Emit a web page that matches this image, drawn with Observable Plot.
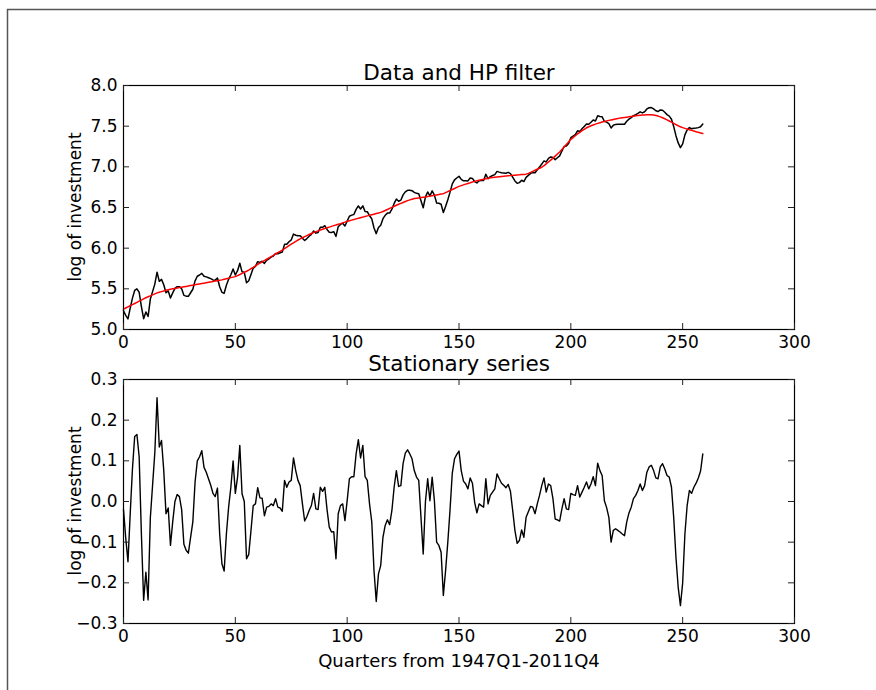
<!DOCTYPE html>
<html>
<head>
<meta charset="utf-8">
<script src="https://cdn.jsdelivr.net/npm/d3@7"></script>
<script src="https://cdn.jsdelivr.net/npm/@observablehq/plot@0.6"></script>
<style>
  html, body { margin: 0; padding: 0; background: #fff; }
  #fig { position: relative; width: 876px; height: 690px; overflow: hidden; background: #fff; }
  .ylab {
    position: absolute; white-space: nowrap;
    font-family: 'DejaVu Sans', sans-serif; font-size: 17px; line-height: 1; color: #000;
    transform: translate(-50%, -50%) rotate(-90deg);
  }
</style>
</head>
<body>
<div id="fig"></div>
<script>
// ---- Data (quarters 0..259, 1947Q1-2011Q4) ----
const topTitle = "Data and HP filter";
const bottomTitle = "Stationary series";
const yLabel = "log of investment";
const xLabel = "Quarters from 1947Q1-2011Q4";

const xTicks = [0, 50, 100, 150, 200, 250, 300];
const topYTicks = [5.0, 5.5, 6.0, 6.5, 7.0, 7.5, 8.0];
const bottomYTicks = [-0.3, -0.2, -0.1, 0.0, 0.1, 0.2, 0.3];

// log of investment (black line, top panel)
const logInvestment = [
  5.230, 5.174, 5.130, 5.262, 5.386, 5.480, 5.499, 5.458, 5.282, 5.133,
  5.216, 5.160, 5.374, 5.466, 5.558, 5.705, 5.592, 5.616, 5.550, 5.452,
  5.474, 5.387, 5.450, 5.505, 5.527, 5.527, 5.500, 5.420, 5.410, 5.408,
  5.452, 5.495, 5.598, 5.655, 5.670, 5.690, 5.654, 5.647, 5.636, 5.625,
  5.610, 5.607, 5.633, 5.525, 5.457, 5.446, 5.544, 5.617, 5.673, 5.744,
  5.670, 5.723, 5.814, 5.709, 5.703, 5.575, 5.600, 5.677, 5.755, 5.777,
  5.834, 5.825, 5.840, 5.813, 5.850, 5.868, 5.890, 5.902, 5.935, 5.930,
  5.944, 5.953, 6.047, 6.048, 6.079, 6.101, 6.173, 6.159, 6.152, 6.153,
  6.122, 6.094, 6.118, 6.146, 6.170, 6.212, 6.185, 6.193, 6.258, 6.257,
  6.276, 6.230, 6.196, 6.193, 6.203, 6.144, 6.264, 6.292, 6.305, 6.273,
  6.332, 6.393, 6.406, 6.413, 6.477, 6.519, 6.482, 6.520, 6.451, 6.449,
  6.398, 6.361, 6.248, 6.179, 6.254, 6.283, 6.363, 6.404, 6.431, 6.432,
  6.480, 6.550, 6.604, 6.577, 6.590, 6.655, 6.692, 6.711, 6.711, 6.707,
  6.686, 6.674, 6.670, 6.583, 6.497, 6.630, 6.691, 6.642, 6.705, 6.652,
  6.555, 6.552, 6.540, 6.439, 6.513, 6.596, 6.689, 6.791, 6.839, 6.863,
  6.884, 6.845, 6.828, 6.830, 6.827, 6.862, 6.858, 6.819, 6.802, 6.830,
  6.832, 6.833, 6.909, 6.853, 6.880, 6.893, 6.904, 6.944, 6.935, 6.927,
  6.925, 6.922, 6.932, 6.917, 6.873, 6.826, 6.797, 6.806, 6.835, 6.819,
  6.871, 6.895, 6.920, 6.931, 6.928, 6.964, 6.997, 7.034, 7.073, 7.060,
  7.103, 7.122, 7.114, 7.089, 7.112, 7.134, 7.194, 7.250, 7.256, 7.286,
  7.358, 7.377, 7.397, 7.443, 7.435, 7.467, 7.497, 7.528, 7.524, 7.548,
  7.576, 7.564, 7.628, 7.619, 7.615, 7.560, 7.550, 7.532, 7.477, 7.512,
  7.522, 7.523, 7.524, 7.523, 7.523, 7.561, 7.587, 7.605, 7.630, 7.642,
  7.657, 7.676, 7.663, 7.677, 7.712, 7.726, 7.729, 7.713, 7.690, 7.680,
  7.699, 7.696, 7.671, 7.642, 7.624, 7.585, 7.495, 7.383, 7.294, 7.236,
  7.282, 7.393, 7.454, 7.483, 7.468, 7.475, 7.477, 7.482, 7.492, 7.527
];

// HP filter trend (red line, top panel)
const hpTrend = [
  5.250, 5.264, 5.278, 5.292, 5.306, 5.320, 5.334, 5.348, 5.362, 5.376,
  5.390, 5.402, 5.414, 5.426, 5.438, 5.450, 5.458, 5.466, 5.474, 5.482,
  5.490, 5.495, 5.500, 5.505, 5.510, 5.515, 5.520, 5.525, 5.530, 5.535,
  5.540, 5.545, 5.550, 5.555, 5.560, 5.565, 5.570, 5.575, 5.580, 5.585,
  5.590, 5.595, 5.600, 5.605, 5.610, 5.617, 5.624, 5.631, 5.638, 5.644,
  5.650, 5.663, 5.676, 5.690, 5.703, 5.716, 5.730, 5.748, 5.765, 5.783,
  5.800, 5.816, 5.832, 5.848, 5.864, 5.880, 5.896, 5.912, 5.928, 5.944,
  5.960, 5.977, 5.995, 6.013, 6.031, 6.049, 6.066, 6.083, 6.100, 6.114,
  6.128, 6.142, 6.155, 6.168, 6.180, 6.192, 6.203, 6.213, 6.223, 6.232,
  6.241, 6.250, 6.259, 6.268, 6.277, 6.285, 6.294, 6.302, 6.311, 6.320,
  6.330, 6.337, 6.345, 6.352, 6.360, 6.367, 6.375, 6.382, 6.390, 6.397,
  6.404, 6.411, 6.418, 6.425, 6.432, 6.440, 6.451, 6.463, 6.476, 6.489,
  6.502, 6.515, 6.528, 6.540, 6.551, 6.562, 6.573, 6.584, 6.594, 6.602,
  6.610, 6.614, 6.618, 6.622, 6.626, 6.630, 6.635, 6.640, 6.645, 6.650,
  6.655, 6.660, 6.665, 6.670, 6.683, 6.696, 6.709, 6.721, 6.734, 6.747,
  6.760, 6.769, 6.778, 6.787, 6.796, 6.804, 6.813, 6.821, 6.830, 6.836,
  6.842, 6.847, 6.853, 6.859, 6.865, 6.870, 6.873, 6.876, 6.879, 6.882,
  6.885, 6.888, 6.890, 6.892, 6.895, 6.897, 6.900, 6.902, 6.905, 6.907,
  6.910, 6.920, 6.932, 6.945, 6.958, 6.970, 6.982, 6.995, 7.015, 7.037,
  7.060, 7.083, 7.107, 7.132, 7.157, 7.182, 7.212, 7.243, 7.274, 7.306,
  7.338, 7.360, 7.382, 7.404, 7.424, 7.444, 7.462, 7.480, 7.493, 7.505,
  7.515, 7.525, 7.534, 7.543, 7.551, 7.558, 7.565, 7.571, 7.577, 7.583,
  7.589, 7.594, 7.599, 7.603, 7.607, 7.611, 7.615, 7.619, 7.623, 7.627,
  7.630, 7.633, 7.636, 7.638, 7.640, 7.641, 7.640, 7.637, 7.632, 7.624,
  7.614, 7.603, 7.591, 7.578, 7.564, 7.550, 7.535, 7.520, 7.505, 7.492,
  7.482, 7.473, 7.464, 7.456, 7.448, 7.440, 7.432, 7.424, 7.417, 7.410
];

// cyclical (stationary) component, bottom panel
const cycle = [
  -0.020, -0.090, -0.148, -0.030, 0.080, 0.160, 0.165, 0.110, -0.080, -0.243,
  -0.174, -0.242, -0.040, 0.040, 0.120, 0.255, 0.134, 0.150, 0.076, -0.030,
  -0.016, -0.108, -0.050, 0.000, 0.017, 0.012, -0.020, -0.105, -0.120, -0.127,
  -0.088, -0.050, 0.048, 0.100, 0.110, 0.125, 0.084, 0.072, 0.056, 0.040,
  0.020, 0.012, 0.033, -0.080, -0.153, -0.171, -0.080, -0.014, 0.035, 0.100,
  0.020, 0.060, 0.138, 0.019, 0.000, -0.141, -0.130, -0.071, -0.010, -0.006,
  0.034, 0.009, 0.008, -0.035, -0.014, -0.012, -0.006, -0.010, 0.007, -0.014,
  -0.016, -0.024, 0.052, 0.035, 0.048, 0.052, 0.107, 0.076, 0.052, 0.039,
  -0.006, -0.048, -0.037, -0.022, -0.010, 0.020, -0.018, -0.020, 0.035, 0.025,
  0.035, -0.020, -0.063, -0.075, -0.074, -0.141, -0.030, -0.010, -0.006, -0.047,
  0.002, 0.056, 0.061, 0.061, 0.117, 0.152, 0.107, 0.138, 0.061, 0.052,
  -0.006, -0.050, -0.170, -0.246, -0.178, -0.157, -0.088, -0.059, -0.045, -0.057,
  -0.022, 0.035, 0.076, 0.037, 0.039, 0.093, 0.119, 0.127, 0.117, 0.105,
  0.076, 0.060, 0.052, -0.039, -0.129, 0.000, 0.056, 0.002, 0.060, 0.002,
  -0.100, -0.108, -0.125, -0.231, -0.170, -0.100, -0.020, 0.070, 0.105, 0.116,
  0.124, 0.076, 0.050, 0.043, 0.031, 0.058, 0.045, -0.002, -0.028, -0.006,
  -0.010, -0.014, 0.056, -0.006, 0.015, 0.023, 0.031, 0.068, 0.056, 0.045,
  0.040, 0.034, 0.042, 0.025, -0.022, -0.071, -0.103, -0.096, -0.070, -0.088,
  -0.039, -0.025, -0.012, -0.014, -0.030, -0.006, 0.015, 0.039, 0.058, 0.023,
  0.043, 0.039, 0.007, -0.043, -0.045, -0.048, -0.018, 0.007, -0.018, -0.020,
  0.020, 0.017, 0.015, 0.039, 0.011, 0.023, 0.035, 0.048, 0.031, 0.043,
  0.061, 0.039, 0.094, 0.076, 0.064, 0.002, -0.015, -0.039, -0.100, -0.071,
  -0.067, -0.071, -0.075, -0.080, -0.084, -0.050, -0.028, -0.014, 0.007, 0.015,
  0.027, 0.043, 0.027, 0.039, 0.072, 0.085, 0.089, 0.076, 0.058, 0.056,
  0.085, 0.093, 0.080, 0.064, 0.060, 0.035, -0.040, -0.137, -0.211, -0.256,
  -0.200, -0.080, -0.010, 0.027, 0.020, 0.035, 0.045, 0.058, 0.075, 0.117
];

// ---- Build table ----
const rows = logInvestment.map((v, i) => ({q: i, inv: v, trend: hpTrend[i], cyc: cycle[i]}));

const W = 876;
const ML = 123, MR = 82;
const frameW = W - ML - MR;   // 671
const frameH = 244;
const TICK = 6;
const baseStyle = {fontFamily: "'DejaVu Sans', sans-serif", fontSize: "17px", color: "black", background: "none", overflow: "visible"};

function panel({height, marginTop, marginBottom, yDomain, yTicks, series, title, titleDy, withXLabel}) {
  const marks = series.concat([
    Plot.frame({stroke: "black", strokeWidth: 1.2}),
    Plot.tickX(xTicks, {x: d => d, insetTop: frameH - TICK, stroke: "#222", strokeWidth: 1}),
    Plot.tickX(xTicks, {x: d => d, insetBottom: frameH - TICK, stroke: "#222", strokeWidth: 1}),
    Plot.tickY(yTicks, {y: d => d, insetRight: frameW - TICK, stroke: "#222", strokeWidth: 1}),
    Plot.tickY(yTicks, {y: d => d, insetLeft: frameW - TICK, stroke: "#222", strokeWidth: 1}),
    Plot.axisX({ticks: xTicks, tickSize: 0, tickPadding: 6, tickFormat: "d", label: null, fill: "black"}),
    Plot.axisY({ticks: yTicks, tickSize: 0, tickPadding: 6, tickFormat: ".1f", label: null, fill: "black"}),
    Plot.text([title], {frameAnchor: "top", dy: titleDy, lineAnchor: "bottom", textAnchor: "middle", fontSize: 21.5, fill: "black"})
  ]);
  if (withXLabel) {
    marks.push(Plot.text([xLabel], {frameAnchor: "bottom", dy: 43, lineAnchor: "bottom", textAnchor: "middle", fontSize: 18, fill: "black"}));
  }
  return Plot.plot({
    width: W, height,
    marginLeft: ML, marginRight: MR, marginTop, marginBottom,
    style: baseStyle,
    x: {domain: [0, 300], label: null},
    y: {domain: yDomain, label: null},
    marks
  });
}

const topPlot = panel({
  height: 355, marginTop: 85, marginBottom: 26,
  yDomain: [5, 8], yTicks: topYTicks, title: topTitle, titleDy: -6, withXLabel: false,
  series: [
    Plot.line(rows, {x: "q", y: "inv", stroke: "black", strokeWidth: 1.5}),
    Plot.line(rows, {x: "q", y: "trend", stroke: "#ff0000", strokeWidth: 1.5})
  ]
});

const bottomPlot = panel({
  height: 335, marginTop: 24, marginBottom: 67,
  yDomain: [-0.3, 0.3], yTicks: bottomYTicks, title: bottomTitle, titleDy: -9, withXLabel: true,
  series: [
    Plot.line(rows, {x: "q", y: "cyc", stroke: "black", strokeWidth: 1.4})
  ]
});

const fig = document.getElementById("fig");
topPlot.style.position = "absolute"; topPlot.style.left = "0px"; topPlot.style.top = "0px";
bottomPlot.style.position = "absolute"; bottomPlot.style.left = "0px"; bottomPlot.style.top = "355px";
fig.appendChild(topPlot);
fig.appendChild(bottomPlot);

// rotated y-axis labels, centred on each panel's frame
function addYLabel(centerY) {
  const d = document.createElement("div");
  d.className = "ylab";
  d.textContent = yLabel;
  d.style.left = "75px";
  d.style.top = centerY + "px";
  fig.appendChild(d);
}
addYLabel(85 + frameH / 2);         // top panel frame: 85..329
addYLabel(355 + 24 + frameH / 2);   // bottom panel frame: 379..623

// figure border (top and left edges, as in the reference screenshot)
const ns = "http://www.w3.org/2000/svg";
const border = document.createElementNS(ns, "svg");
border.setAttribute("width", W); border.setAttribute("height", 690);
border.style.position = "absolute"; border.style.left = "0px"; border.style.top = "0px";
border.style.pointerEvents = "none";
const path = document.createElementNS(ns, "path");
path.setAttribute("d", "M7.5,690 L7.5,9.5 L876,9.5");
path.setAttribute("fill", "none");
path.setAttribute("stroke", "#555");
path.setAttribute("stroke-width", "1.5");
border.appendChild(path);
fig.appendChild(border);
</script>
</body>
</html>
